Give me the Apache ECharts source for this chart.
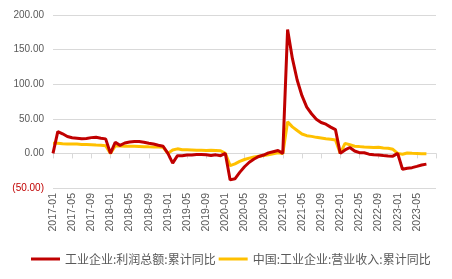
<!DOCTYPE html>
<html>
<head>
<meta charset="utf-8">
<script src="https://cdn.jsdelivr.net/npm/echarts@6/dist/echarts.min.js"></script>
<style>html,body{margin:0;padding:0;background:#fff;}#c{width:452px;height:279px;}</style>
</head>
<body>
<div id="c"></div>
<script>
// Months 2017-01 .. 2023-09
var categories = [];
for (var y = 2017; y <= 2023; y++) {
  for (var m = 1; m <= 12; m++) {
    if (y === 2023 && m > 9) break;
    categories.push(y + '-' + (m < 10 ? '0' + m : m));
  }
}
var seriesNames = ['工业企业:利润总额:累计同比', '中国:工业企业:营业收入:累计同比'];
var profitYoY = [
  0, 31.5, 28.3, 24.4, 22.7, 22.0, 21.1, 21.6, 22.8, 23.3, 21.9, 21.0,
  0, 16.1, 11.6, 15.0, 16.5, 17.2, 17.1, 16.2, 14.7, 13.6, 11.8, 10.3,
  0, -14.0, -3.3, -3.4, -2.3, -2.4, -1.7, -1.7, -2.1, -2.9, -2.1, -3.3,
  0, -38.3, -36.7, -27.4, -19.3, -12.8, -8.1, -4.4, -2.4, 0.7, 2.4, 4.1,
  0, 178.9, 137.3, 106.0, 83.4, 66.9, 57.3, 49.5, 44.7, 42.2, 38.0, 34.3,
  0, 5.0, 8.5, 3.5, 1.0, 1.0, -1.1, -2.1, -2.3, -3.0, -3.6, -4.0,
  0, -22.9, -21.4, -20.6, -18.8, -16.8, -15.5, null, null
];
var revenueYoY = [
  14.6, 14.6, 13.9, 13.6, 13.5, 13.6, 13.0, 12.7, 12.4, 12.0, 11.8, 11.1,
  0, 10.8, 10.6, 10.5, 10.4, 10.3, 10.0, 9.7, 9.5, 9.4, 9.3, 8.9,
  0, 4.9, 6.6, 5.2, 5.2, 5.0, 4.6, 4.5, 4.3, 4.4, 4.1, 3.8,
  0, -17.7, -15.1, -11.5, -8.8, -6.8, -5.3, -4.1, -2.9, -1.8, -0.7, 0.8,
  0, 45.6, 38.3, 33.0, 28.0, 25.6, 24.6, 23.2, 22.2, 21.1, 20.5, 19.4,
  0, 14.5, 12.6, 10.3, 9.8, 9.1, 8.8, 8.4, 8.8, 7.9, 7.4, 5.9,
  0, -1.3, 0.6, 0.2, -0.1, -0.4, -0.5, null, null
];
var yMin = -50, yMax = 200, yStep = 50;

var chart = echarts.init(document.getElementById('c'), null, {renderer: 'canvas'});
chart.setOption({
  animation: false,
  backgroundColor: '#fff',
  grid: {left: 53, right: 16, top: 15, bottom: 91, containLabel: false},
  legend: {
    left: 26, top: 248,
    itemWidth: 29, itemHeight: 3, itemGap: 3,
    icon: 'rect',
    textStyle: {fontSize: 12, color: '#595959', fontFamily: 'Noto Sans CJK SC'},
    data: seriesNames
  },
  xAxis: [{
    type: 'category', data: categories, boundaryGap: false, position: 'bottom',
    axisLine: {show: false, onZero: false}, axisTick: {show: false},
    axisLabel: {interval: 3, rotate: 90, fontSize: 10.5, color: '#595959', margin: 5,
      fontFamily: 'Liberation Sans', showMaxLabel: false},
    splitLine: {show: false}
  }, {
    type: 'category', data: categories, boundaryGap: false, position: 'top',
    axisLine: {show: true, onZero: true, lineStyle: {color: '#d9d9d9', width: 1}},
    axisTick: {show: true, inside: true, interval: 3, length: 5, lineStyle: {color: '#d9d9d9'}},
    axisLabel: {show: false}, splitLine: {show: false}
  }],
  yAxis: {
    type: 'value', min: yMin, max: yMax, interval: yStep,
    axisLine: {show: false}, axisTick: {show: false},
    splitLine: {lineStyle: {color: '#d9d9d9', width: 1}},
    axisLabel: {
      margin: 9, fontSize: 10, fontFamily: 'Liberation Sans',
      color: function (v) { return v < 0 ? '#c00000' : '#595959'; },
      formatter: function (v) { return v < 0 ? '(' + Math.abs(v).toFixed(2) + ')' : v.toFixed(2); }
    }
  },
  series: [{
    name: seriesNames[0], type: 'line', data: profitYoY, xAxisIndex: 0,
    showSymbol: false, symbol: 'none', connectNulls: false,
    lineStyle: {color: '#c00000', width: 3}, itemStyle: {color: '#c00000'}, z: 3
  }, {
    name: seriesNames[1], type: 'line', data: revenueYoY, xAxisIndex: 0,
    showSymbol: false, symbol: 'none', connectNulls: false,
    lineStyle: {color: '#ffc000', width: 3}, itemStyle: {color: '#ffc000'}, z: 2
  }]
});
</script>
</body>
</html>
